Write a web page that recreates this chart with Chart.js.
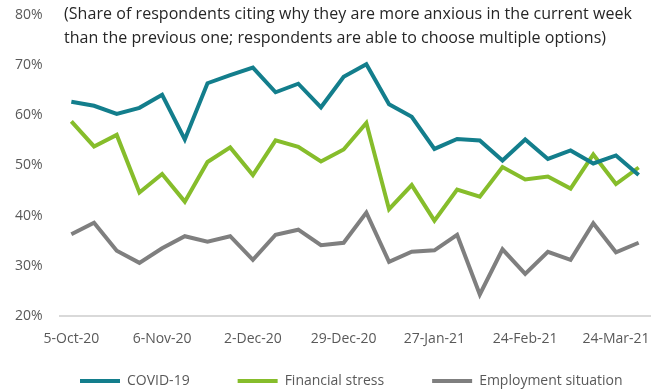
<!DOCTYPE html>
<html>
<head>
<meta charset="utf-8">
<script src="https://cdn.jsdelivr.net/npm/chart.js@4"></script>
<style>
html,body{margin:0;padding:0;background:#fff;}
#wrap{position:relative;width:663px;height:390px;}
#note{position:absolute;left:64px;top:1px;font-family:"Open Sans",sans-serif;font-size:16px;line-height:24px;color:#262626;white-space:nowrap;letter-spacing:0.05px;}
</style>
</head>
<body>
<div id="wrap">
<canvas id="c" width="663" height="390"></canvas>
<div id="note">(Share of respondents citing why they are more anxious in the current week<br>than the previous one; respondents are able to choose multiple options)</div>
</div>
<script>
const categories = ["5-Oct-20","","","","6-Nov-20","","","","2-Dec-20","","","","29-Dec-20","","","","27-Jan-21","","","","24-Feb-21","","","","24-Mar-21",""];
const covid = [62.7,61.9,60.3,61.5,64.1,55.2,66.4,68.0,69.5,64.6,66.3,61.6,67.7,70.2,62.2,59.7,53.3,55.3,55.0,51.0,55.2,51.3,53.0,50.4,52.0,48.1];
const financial = [58.8,53.8,56.1,44.6,48.3,42.8,50.7,53.6,48.1,55.0,53.7,50.8,53.2,58.5,41.3,46.1,39.0,45.2,43.8,49.7,47.2,47.8,45.4,52.2,46.3,49.6];
const employment = [36.3,38.6,33.0,30.6,33.5,35.9,34.8,35.9,31.2,36.2,37.2,34.1,34.6,40.6,30.8,32.8,33.1,36.2,24.3,33.3,28.4,32.8,31.2,38.5,32.7,34.6];
const yTicks = [20,30,40,50,60,70,80];

const axisFont = {family:"'Open Sans', sans-serif", size:14};
const legendFont = {family:"'Open Sans', sans-serif", size:14};
const LEG_PAD = 48;

// keep the legend on one row and place it where the reference has it
const legendPlace = {
  id:'legendPlace',
  beforeLayout(chart){
    const lg = chart.legend;
    if(lg && !lg.__wide){
      const u = lg.update;
      lg.update = function(mw, mh, m){ return u.call(this, Math.max(mw, 760), mh, m); };
      lg.__wide = true;
    }
  },
  afterLayout(chart){
    const lg = chart.legend;
    if(!lg) return;
    lg.left = 80 - LEG_PAD;
    lg.right = lg.left + 900;
    lg.top = 381 - LEG_PAD - legendFont.size/2;
  }
};

new Chart(document.getElementById('c'), {
  type:'line',
  data:{
    labels:categories,
    datasets:[
      {label:'COVID-19', data:covid, borderColor:'#137e8c', backgroundColor:'#137e8c', borderWidth:4, pointRadius:0, tension:0},
      {label:'Financial stress', data:financial, borderColor:'#86bd2b', backgroundColor:'#86bd2b', borderWidth:4, pointRadius:0, tension:0},
      {label:'Employment situation', data:employment, borderColor:'#7f7f7f', backgroundColor:'#7f7f7f', borderWidth:4, pointRadius:0, tension:0}
    ]
  },
  plugins:[legendPlace],
  options:{
    responsive:false,
    animation:false,
    layout:{autoPadding:false, padding:{left:15,right:13,top:15,bottom:-30}},
    plugins:{
      legend:{position:'bottom', align:'start', labels:{
        boxWidth:40, boxHeight:4, color:'#595959', font:legendFont, padding:LEG_PAD,
        generateLabels:(chart)=>Chart.defaults.plugins.legend.labels.generateLabels(chart).map(l=>Object.assign(l,{lineWidth:0}))
      }},
      tooltip:{enabled:false}
    },
    scales:{
      x:{
        offset:true,
        afterFit:(s)=>{s.height=32;},
        grid:{display:false, drawTicks:false},
        border:{display:true, color:'#d9d9d9', width:2},
        ticks:{autoSkip:false, maxRotation:0, color:'#595959', font:axisFont, padding:14.5}
      },
      y:{
        min:20, max:80,
        afterBuildTicks:(s)=>{s.ticks = yTicks.map(v=>({value:v}));},
        afterFit:(s)=>{s.width=45;},
        grid:{display:false, drawTicks:false},
        border:{display:false},
        ticks:{color:'#595959', font:axisFont, padding:0, crossAlign:'far', callback:(v)=>v+'%'}
      }
    }
  }
});
</script>
</body>
</html>
